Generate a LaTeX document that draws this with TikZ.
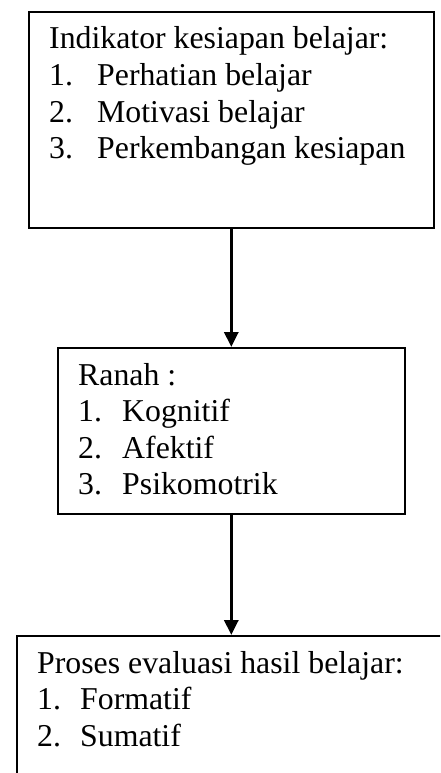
\documentclass[tikz,border=0pt]{standalone}
\usepackage{fontspec}
\setmainfont{Liberation Serif}
\usetikzlibrary{arrows.meta}
\begin{document}
\begin{tikzpicture}[x=1pt,y=-1pt,
  frame/.style={draw, line width=1.6pt, inner sep=0pt, anchor=north west},
  flowarrow/.style={line width=3pt, -{Triangle[length=15pt,width=14pt]}},
  txt/.style={anchor=base west, inner sep=0pt, font=\fontsize{31.8}{36.6}\selectfont}]
\clip (0,0) rectangle (440,773);
\fill[white] (0,0) rectangle (440,773);

% boxes
\node[frame, minimum width=405pt, minimum height=216pt] (indikator) at (28,11) {};
\node[frame, minimum width=347pt, minimum height=166pt] (ranah) at (57,347) {};
\node[frame, minimum width=460pt, minimum height=200pt] (proses) at (16,635) {};

% box 1 text
\node[txt] (i0) at (49,49) {Indikator kesiapan belajar:};
\node[txt] (i1n) at (49,85.6) {1.};
\node[txt] (i1) at (97,85.6) {Perhatian belajar};
\node[txt] (i2n) at (49,122.2) {2.};
\node[txt] (i2) at (97,122.2) {Motivasi belajar};
\node[txt] (i3n) at (49,158.8) {3.};
\node[txt] (i3) at (97,158.8) {Perkembangan kesiapan};

% box 2 text
\node[txt] (r0) at (78,385) {Ranah :};
\node[txt] (r1n) at (78,421.6) {1.};
\node[txt] (r1) at (122,421.6) {Kognitif};
\node[txt] (r2n) at (78,458.2) {2.};
\node[txt] (r2) at (122,458.2) {Afektif};
\node[txt] (r3n) at (78,494.8) {3.};
\node[txt] (r3) at (122,494.8) {Psikomotrik};

% box 3 text
\node[txt] (p0) at (37,673) {Proses evaluasi hasil belajar:};
\node[txt] (p1n) at (37,709.6) {1.};
\node[txt] (p1) at (80,709.6) {Formatif};
\node[txt] (p2n) at (37,746.2) {2.};
\node[txt] (p2) at (80,746.2) {Sumatif};

% connectors
\coordinate (a1) at (indikator.south);
\coordinate (a2) at (ranah.south);
\draw[flowarrow] (a1) -- (a1 |- ranah.north);
\draw[flowarrow] (a2) -- (a2 |- proses.north);
\end{tikzpicture}
\end{document}
